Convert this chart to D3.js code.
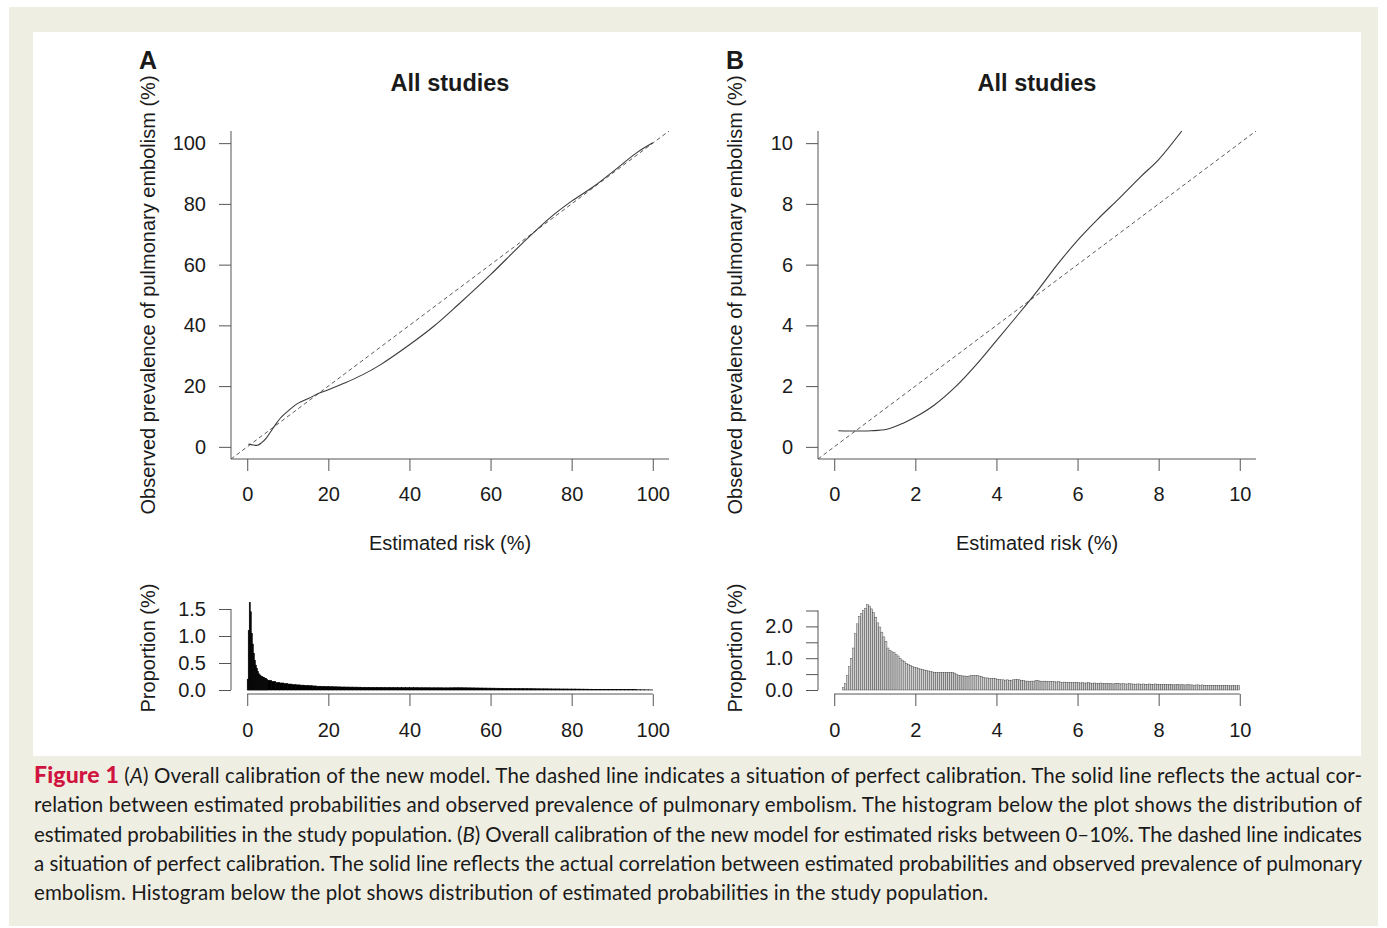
<!DOCTYPE html>
<html>
<head>
<meta charset="utf-8">
<script src="https://cdn.jsdelivr.net/npm/d3@7"></script>
<style>
body { margin: 0; background: #fff; }
svg text { font-family: "Liberation Sans", Arial, sans-serif; fill: #1a1a1a; }
</style>
</head>
<body>
<svg id="fig" width="1387" height="928"></svg>
<script>
// calibration curves (estimated risk %, observed %)
var riskA = [0.3, 1.5, 2.5, 3.5, 4.7, 6.4, 8.2, 10.4, 12.6, 15.2, 17.8, 20, 24, 28.4, 32.8, 40, 46, 52, 60, 67.9, 75, 80, 85.5, 90.8, 96, 100];
var observedA = [0.9, 0.6, 0.5, 1.3, 2.9, 6.2, 9.5, 12.2, 14.4, 16, 17.7, 18.8, 21, 23.7, 27, 33.6, 39.7, 46.8, 56.7, 67.1, 75.8, 80.9, 85.8, 91.3, 96.8, 100.1];

var riskB = [0.1, 0.5, 0.9, 1.3, 1.7, 2, 2.47, 3, 3.53, 4, 4.5, 5, 5.5, 6, 6.5, 7.04, 7.56, 8, 8.57];
var observedB = [0.53, 0.52, 0.53, 0.58, 0.78, 0.98, 1.38, 1.99, 2.75, 3.5, 4.3, 5.12, 6.0, 6.8, 7.5, 8.2, 8.9, 9.46, 10.4];

// histogram A: 0-5 in steps of 0.25, then 5-100 in steps of 1 (proportion %)
var histAFine = [0.2, 1.1, 1.62, 1.45, 1.05, 0.85, 0.68, 0.55, 0.46, 0.4,
    0.34, 0.3, 0.28, 0.26, 0.25, 0.24, 0.23, 0.22, 0.21, 0.2];
var histACoarse = [0.18, 0.16, 0.14, 0.13, 0.12,
    0.11, 0.1, 0.095, 0.09, 0.085, 0.08, 0.075, 0.07, 0.068, 0.065,
    0.062, 0.06, 0.058, 0.056, 0.055, 0.054, 0.053, 0.052, 0.05, 0.05,
    0.049, 0.048, 0.048, 0.047, 0.046, 0.046, 0.045, 0.045, 0.044, 0.044,
    0.043, 0.043, 0.042, 0.042, 0.042, 0.041, 0.041, 0.041, 0.04, 0.04,
    0.041, 0.042, 0.042, 0.041, 0.04, 0.039, 0.038, 0.037, 0.036, 0.035,
    0.034, 0.033, 0.032, 0.031, 0.03, 0.029, 0.028, 0.027, 0.026, 0.025,
    0.024, 0.023, 0.022, 0.022, 0.021, 0.02, 0.02, 0.019, 0.019, 0.018,
    0.018, 0.017, 0.016, 0.015, 0.014, 0.013, 0.012, 0.011, 0.01, 0.01,
    0.009, 0.008, 0.008, 0.007, 0.006, 0.006, 0.005, 0.004, 0.003, 0.002];

// histogram B: 0-10 in steps of 0.05 (proportion %)
var histB = [
    0, 0, 0, 0, 0.07, 0.2, 0.45, 0.73, 1.0, 1.32,
    1.77, 2.08, 2.32, 2.4, 2.5, 2.57, 2.68, 2.64, 2.55, 2.43,
    2.29, 2.11, 1.98, 1.82, 1.67, 1.53, 1.32, 1.25, 1.2, 1.17,
    1.11, 1.07, 0.99, 0.94, 0.89, 0.84, 0.8, 0.78, 0.74, 0.72,
    0.7, 0.68, 0.66, 0.65, 0.63, 0.62, 0.6, 0.58, 0.57, 0.56,
    0.55, 0.55, 0.56, 0.55, 0.55, 0.56, 0.55, 0.56, 0.55, 0.53,
    0.48, 0.46, 0.45, 0.44, 0.44, 0.43, 0.44, 0.45, 0.45, 0.46,
    0.46, 0.44, 0.42, 0.40, 0.38, 0.38, 0.37, 0.37, 0.36, 0.36,
    0.34, 0.33, 0.32, 0.32, 0.31, 0.32, 0.31, 0.31, 0.32, 0.33,
    0.33, 0.32, 0.30, 0.29, 0.28, 0.28, 0.27, 0.28, 0.28, 0.29,
    0.29, 0.28, 0.27, 0.28, 0.27, 0.26, 0.27, 0.26, 0.26, 0.25,
    0.26, 0.25, 0.24, 0.25, 0.24, 0.24, 0.23, 0.24, 0.23, 0.23,
    0.23, 0.22, 0.23, 0.22, 0.22, 0.23, 0.22, 0.21, 0.22, 0.21,
    0.21, 0.22, 0.21, 0.20, 0.21, 0.20, 0.20, 0.19, 0.20, 0.20,
    0.20, 0.19, 0.20, 0.19, 0.19, 0.20, 0.19, 0.19, 0.18, 0.19,
    0.19, 0.18, 0.19, 0.18, 0.18, 0.19, 0.18, 0.18, 0.19, 0.18,
    0.18, 0.17, 0.18, 0.17, 0.17, 0.18, 0.17, 0.16, 0.17, 0.17,
    0.16, 0.17, 0.16, 0.16, 0.17, 0.16, 0.16, 0.15, 0.16, 0.16,
    0.15, 0.16, 0.15, 0.15, 0.15, 0.14, 0.15, 0.15, 0.14, 0.15,
    0.14, 0.14, 0.15, 0.14, 0.14, 0.13, 0.14, 0.14, 0.13, 0.14];

var ticksA = [0, 20, 40, 60, 80, 100];
var ticksB = [0, 2, 4, 6, 8, 10];
var histTicksA = [0, 0.5, 1, 1.5];
var histTicksB = [0, 0.5, 1, 1.5, 2, 2.5];
var histLabelsB = [0, 1, 2];

var svg = d3.select("#fig");

// page background + white figure panel
svg.append("rect").attr("x", 9).attr("y", 7).attr("width", 1369).attr("height", 919).attr("fill", "#efeee3");
svg.append("rect").attr("x", 33).attr("y", 32).attr("width", 1328).attr("height", 724).attr("fill", "#fff");

function drawPanel(opt) {
    var x = d3.scaleLinear().domain(opt.domain).range([opt.left, opt.left + 438]);
    var y = d3.scaleLinear().domain(opt.domain).range([459, 131]);
    var g = svg.append("g");
    var axisColor = "#555";

    g.append("text").text(opt.letter)
        .attr("x", opt.left - 92).attr("y", 69)
        .style("font-weight", "bold").style("font-size", "25px");
    g.append("text").text("All studies")
        .attr("x", (opt.left + opt.left + 438) / 2).attr("y", 91)
        .attr("text-anchor", "middle")
        .style("font-weight", "bold").style("font-size", "23.5px");

    // L-shaped box
    g.append("path")
        .attr("d", "M" + x.range()[0] + "," + y.range()[1] + "V" + y.range()[0] + "H" + x.range()[1])
        .attr("fill", "none").attr("stroke", axisColor);

    var xa = g.append("g").attr("transform", "translate(0,459)")
        .call(d3.axisBottom(x).tickValues(opt.ticks).tickSize(12).tickPadding(16).tickFormat(d3.format("d")));
    var ya = g.append("g").attr("transform", "translate(" + opt.left + ",0)")
        .call(d3.axisLeft(y).tickValues(opt.ticks).tickSize(12).tickPadding(13).tickFormat(d3.format("d")));
    [xa, ya].forEach(function (a) {
        a.select(".domain").remove();
        a.selectAll("line").attr("stroke", axisColor);
        a.selectAll("text").style("font-size", "20px").attr("fill", "#1a1a1a");
    });

    g.append("text").text("Estimated risk (%)")
        .attr("x", (opt.left + opt.left + 438) / 2).attr("y", 550)
        .attr("text-anchor", "middle").style("font-size", "20px");
    g.append("text").text("Observed prevalence of pulmonary embolism (%)")
        .attr("transform", "translate(" + (opt.left - 76) + ",295)rotate(-90)")
        .attr("text-anchor", "middle").style("font-size", "20px");

    var clipId = "clip" + opt.letter;
    svg.append("clipPath").attr("id", clipId).append("rect")
        .attr("x", opt.left).attr("y", 131).attr("width", 438).attr("height", 328);
    var plot = g.append("g").attr("clip-path", "url(#" + clipId + ")");

    // perfect calibration
    plot.append("line")
        .attr("x1", x(opt.domain[0])).attr("y1", y(opt.domain[0]))
        .attr("x2", x(opt.domain[1])).attr("y2", y(opt.domain[1]))
        .attr("stroke", "#5a5a5a").attr("stroke-width", 1).attr("stroke-dasharray", "4,3");

    var pts = opt.risk.map(function (r, i) { return [r, opt.observed[i]]; });
    var line = d3.line()
        .x(function (d) { return x(d[0]); })
        .y(function (d) { return y(d[1]); })
        .curve(d3.curveCatmullRom.alpha(0.5));
    plot.append("path").datum(pts)
        .attr("d", line)
        .attr("fill", "none").attr("stroke", "#3a3a3a").attr("stroke-width", 1.1);

    // histogram below
    var hy = d3.scaleLinear().domain([0, opt.histMax]).range([690, opt.histTop]);
    var hg = svg.append("g");
    hg.selectAll("rect")
        .data(opt.bins)
        .enter()
        .append("rect")
        .attr("x", function (d) { return x(d.x0); })
        .attr("y", function (d) { return hy(d.v); })
        .attr("width", function (d) { return x(d.x1) - x(d.x0); })
        .attr("height", function (d) { return hy(0) - hy(d.v); })
        .attr("fill", opt.barFill)
        .attr("stroke", opt.barStroke)
        .attr("stroke-width", opt.barStrokeWidth);

    hg.append("line")
        .attr("x1", opt.left).attr("x2", opt.left)
        .attr("y1", hy(opt.histTicks[opt.histTicks.length - 1])).attr("y2", hy(0))
        .attr("stroke", axisColor);
    var hya = hg.append("g").attr("transform", "translate(" + opt.left + ",0)")
        .call(d3.axisLeft(hy).tickValues(opt.histTicks).tickSize(12).tickPadding(13)
            .tickFormat(function (d) { return opt.histLabels.indexOf(d) >= 0 ? d3.format(".1f")(d) : ""; }));
    hg.append("line")
        .attr("x1", x(opt.ticks[0])).attr("x2", x(opt.ticks[opt.ticks.length - 1]))
        .attr("y1", 694).attr("y2", 694)
        .attr("stroke", axisColor);
    var hxa = hg.append("g").attr("transform", "translate(0,694)")
        .call(d3.axisBottom(x).tickValues(opt.ticks).tickSize(12).tickPadding(17).tickFormat(d3.format("d")));
    [hxa, hya].forEach(function (a) {
        a.select(".domain").remove();
        a.selectAll("line").attr("stroke", axisColor);
        a.selectAll("text").style("font-size", "20px").attr("fill", "#1a1a1a");
    });
    hg.append("text").text("Proportion (%)")
        .attr("transform", "translate(" + (opt.left - 76) + ",648)rotate(-90)")
        .attr("text-anchor", "middle").style("font-size", "20px");
}

var binsA = histAFine.map(function (v, i) { return { x0: i * 0.25, x1: (i + 1) * 0.25, v: v }; })
    .concat(histACoarse.map(function (v, i) { return { x0: 5 + i, x1: 6 + i, v: v }; }));
var binsB = histB.map(function (v, i) { return { x0: i * 0.05, x1: (i + 1) * 0.05, v: v }; });

drawPanel({
    letter: "A", left: 231, domain: [-4, 104], ticks: ticksA,
    risk: riskA, observed: observedA,
    bins: binsA, histMax: 1.5, histTop: 609, histTicks: histTicksA, histLabels: histTicksA,
    barFill: "#000", barStroke: "#000", barStrokeWidth: 0.6
});
drawPanel({
    letter: "B", left: 818, domain: [-0.4, 10.4], ticks: ticksB,
    risk: riskB, observed: observedB,
    bins: binsB, histMax: 2.5, histTop: 610.5, histTicks: histTicksB, histLabels: histLabelsB,
    barFill: "#cfcfcf", barStroke: "#3a3a3a", barStrokeWidth: 0.4
});

// caption
var caption = [
    [["Figure 1", "b"], [" (", ""], ["A", "i"], [") Overall calibration of the new model. The dashed line indicates a situation of perfect calibration. The solid line reflects the actual cor-", ""]],
    [["relation between estimated probabilities and observed prevalence of pulmonary embolism. The histogram below the plot shows the distribution of", ""]],
    [["estimated probabilities in the study population. (", ""], ["B", "i"], [") Overall calibration of the new model for estimated risks between 0\u201310%. The dashed line indicates", ""]],
    [["a situation of perfect calibration. The solid line reflects the actual correlation between estimated probabilities and observed prevalence of pulmonary", ""]],
    [["embolism. Histogram below the plot shows distribution of estimated probabilities in the study population.", ""]]
];
var captionWidths = [1328, 1328, 1328, 1328, 954];

caption.forEach(function (parts, i) {
    var t = svg.append("text")
        .attr("x", 34).attr("y", 783 + i * 29.3)
        .attr("textLength", captionWidths[i]).attr("lengthAdjust", "spacing")
        .style("font-family", "Lato, 'Open Sans', sans-serif").style("font-size", "20.5px")
        .attr("fill", "#222");
    parts.forEach(function (p) {
        var s = t.append("tspan").text(p[0]);
        if (p[1] === "b") s.style("font-weight", "900").attr("fill", "#d01440").style("font-size", "23px");
        if (p[1] === "i") s.style("font-style", "italic");
    });
});
</script>
</body>
</html>
